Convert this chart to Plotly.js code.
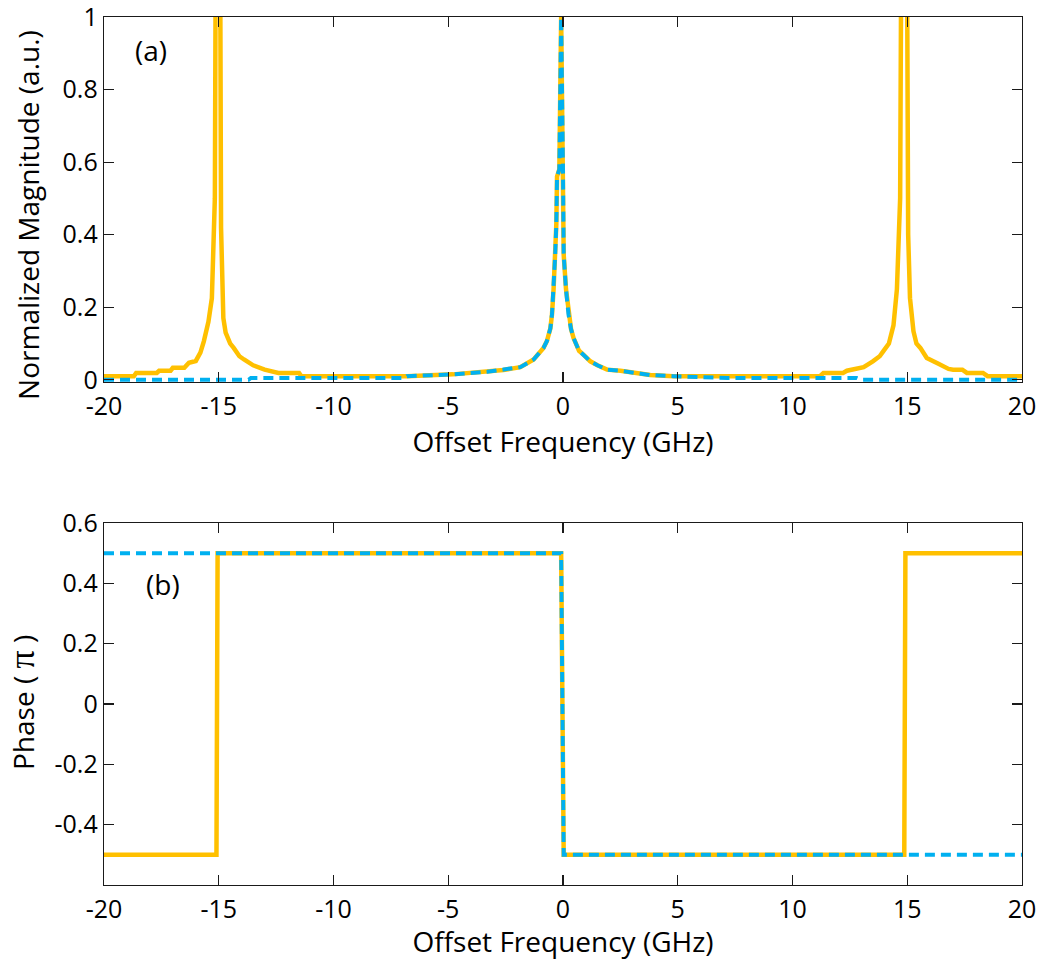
<!DOCTYPE html>
<html>
<head>
<meta charset="utf-8">
<script src="https://cdn.plot.ly/plotly-3.0.1.min.js"></script>
<style>html,body{margin:0;padding:0;background:#fff;}#chart{width:1040px;height:960px;}</style>
</head>
<body>
<div id="chart"></div>
<script>
// ---- Data ----
// Panel (a): normalized magnitude, yellow solid series
const magYellowX = [-20, -18.7, -18.6, -17.7, -17.6, -17.1, -17.0, -16.5, -16.3, -16.0, -15.8, -15.65, -15.45, -15.3, -15.17, -15.03, -14.9, -14.8, -14.7, -14.5, -14.35, -14.1, -13.9, -13.5, -13.0, -12.4, -11.5, -11.4, -9.0, -6.8, -4.8, -3.3, -2.6, -1.86, -1.28, -0.85, -0.7, -0.55, -0.48, -0.41, -0.34, -0.29, -0.26, -0.16, -0.08, 0.0, 0.03, 0.13, 0.24, 0.35, 0.46, 0.7, 0.9, 1.19, 1.5, 1.92, 2.5, 3.07, 3.8, 4.8, 6.55, 9.0, 11.2, 11.35, 12.2, 12.37, 13.1, 13.5, 13.8, 13.96, 14.2, 14.4, 14.55, 14.69, 14.87, 15.04, 15.12, 15.27, 15.4, 15.57, 15.85, 16.36, 16.8, 17.0, 17.4, 17.6, 18.3, 18.5, 20];
const magYellowY = [0.01, 0.01, 0.019, 0.019, 0.025, 0.025, 0.033, 0.033, 0.047, 0.052, 0.075, 0.106, 0.16, 0.225, 0.5, 3.0, 0.42, 0.17, 0.13, 0.1, 0.088, 0.065, 0.056, 0.04, 0.028, 0.019, 0.019, 0.01, 0.01, 0.01, 0.015, 0.022, 0.027, 0.035, 0.056, 0.088, 0.107, 0.142, 0.18, 0.25, 0.345, 0.43, 0.56, 0.58, 1.0, 0.57, 0.345, 0.25, 0.18, 0.14, 0.115, 0.08, 0.069, 0.051, 0.04, 0.028, 0.025, 0.019, 0.013, 0.01, 0.01, 0.01, 0.01, 0.019, 0.019, 0.025, 0.035, 0.051, 0.065, 0.079, 0.1, 0.15, 0.25, 0.5, 3.0, 0.4, 0.225, 0.134, 0.1, 0.088, 0.06, 0.044, 0.03, 0.028, 0.028, 0.019, 0.019, 0.01, 0.01];
// Panel (a): normalized magnitude, blue dashed series
const magBlueX = [-20, -13.7, -13.6, -6.9, -6.8, -4.8, -3.3, -2.6, -1.86, -1.28, -0.85, -0.7, -0.55, -0.48, -0.41, -0.34, -0.29, -0.26, -0.16, -0.08, 0.0, 0.03, 0.13, 0.24, 0.35, 0.46, 0.7, 0.9, 1.19, 1.5, 1.92, 2.5, 3.07, 3.8, 4.8, 6.55, 7.2, 12.8, 13.0, 20];
const magBlueY = [0, 0, 0.005, 0.005, 0.01, 0.015, 0.022, 0.027, 0.035, 0.056, 0.088, 0.107, 0.142, 0.18, 0.25, 0.345, 0.43, 0.56, 0.58, 1.0, 0.57, 0.345, 0.25, 0.18, 0.14, 0.115, 0.08, 0.069, 0.051, 0.04, 0.028, 0.025, 0.019, 0.013, 0.01, 0.007, 0.005, 0.005, 0, 0];
// Panel (b): phase in units of pi
const phaseYellowX = [-20, -15.1, -15.05, -0.08, 0.03, 14.87, 14.92, 20];
const phaseYellowY = [-0.5, -0.5, 0.5, 0.5, -0.5, -0.5, 0.5, 0.5];
const phaseBlueX = [-20, -0.08, 0.03, 20];
const phaseBlueY = [0.5, 0.5, -0.5, -0.5];
// Tick labels
const xTicks = [-20, -15, -10, -5, 0, 5, 10, 15, 20];
const magTicks = [0, 0.2, 0.4, 0.6, 0.8, 1];
const magTickText = ['0', '0.2', '0.4', '0.6', '0.8', '1'];
const phaseTicks = [-0.4, -0.2, 0, 0.2, 0.4, 0.6];
const phaseTickText = ['-0.4', '-0.2', '0', '0.2', '0.4', '0.6'];

const YELLOW = '#FFC000';
const BLUE = '#00B0F0';
const FONT = '"Open Sans", Lato, sans-serif';
const TITLE_SIZE = 28;

const traces = [
  {x: magYellowX, y: magYellowY, xaxis: 'x', yaxis: 'y', mode: 'lines', line: {color: YELLOW, width: 4.5}, showlegend: false},
  {x: magBlueX, y: magBlueY, xaxis: 'x', yaxis: 'y', mode: 'lines', line: {color: BLUE, width: 4, dash: '10px,6px'}, showlegend: false},
  {x: phaseYellowX, y: phaseYellowY, xaxis: 'x2', yaxis: 'y2', mode: 'lines', line: {color: YELLOW, width: 4.5}, showlegend: false},
  {x: phaseBlueX, y: phaseBlueY, xaxis: 'x2', yaxis: 'y2', mode: 'lines', line: {color: BLUE, width: 4, dash: '10px,6px'}, showlegend: false}
];

const axisCommon = {
  showline: true, linecolor: '#1a1a1a', linewidth: 1.3, mirror: 'ticks',
  ticks: 'inside', ticklen: 10, tickwidth: 1.2, tickcolor: '#1a1a1a',
  showgrid: false, zeroline: false, ticklabeloverflow: 'allow',
  tickfont: {family: FONT, size: 25, color: '#000'}
};

const layout = {
  width: 1040, height: 960,
  margin: {l: 104, r: 18, t: 17, b: 75},
  paper_bgcolor: '#fff', plot_bgcolor: '#fff',
  font: {family: FONT, size: 25, color: '#000'},
  xaxis: Object.assign({}, axisCommon, {
    domain: [0, 1], anchor: 'y', range: [-20, 20], tickvals: xTicks,
    ticktext: xTicks.map(String), ticklabelstandoff: 2,
    title: {text: 'Offset Frequency (GHz)', font: {family: FONT, size: TITLE_SIZE}, standoff: 3}
  }),
  yaxis: Object.assign({}, axisCommon, {
    domain: [0.5795, 1], anchor: 'x', range: [-0.006, 1], tickvals: magTicks, ticktext: magTickText
  }),
  xaxis2: Object.assign({}, axisCommon, {
    domain: [0, 1], anchor: 'y2', range: [-20, 20], tickvals: xTicks,
    ticktext: xTicks.map(String), ticklabelstandoff: 2,
    title: {text: 'Offset Frequency (GHz)', font: {family: FONT, size: TITLE_SIZE}, standoff: 3}
  }),
  yaxis2: Object.assign({}, axisCommon, {
    domain: [0, 0.417], anchor: 'x2', range: [-0.6, 0.6], tickvals: phaseTicks, ticktext: phaseTickText
  }),
  annotations: [
    {text: 'Normalized Magnitude (a.u.)', textangle: -90, xref: 'paper', yref: 'paper', x: -0.0828, y: 0.772,
     xanchor: 'center', yanchor: 'middle', showarrow: false, font: {family: FONT, size: TITLE_SIZE, color: '#000'}},
    {text: 'Phase ( <span style="font-family:\'Liberation Serif\', serif;font-size:36px;">π</span> )', textangle: -90, xref: 'paper', yref: 'paper', x: -0.0893, y: 0.2097,
     xanchor: 'center', yanchor: 'middle', showarrow: false, font: {family: FONT, size: TITLE_SIZE, color: '#000'}},
    {text: '(a)', x: -17.97, y: 0.91, xref: 'x', yref: 'y', showarrow: false, font: {family: FONT, size: TITLE_SIZE, color: '#000'}},
    {text: '(b)', x: -17.45, y: 0.397, xref: 'x2', yref: 'y2', showarrow: false, font: {family: FONT, size: TITLE_SIZE, color: '#000'}}
  ]
};

Plotly.newPlot('chart', traces, layout, {displayModeBar: false, staticPlot: true});
</script>
</body>
</html>
